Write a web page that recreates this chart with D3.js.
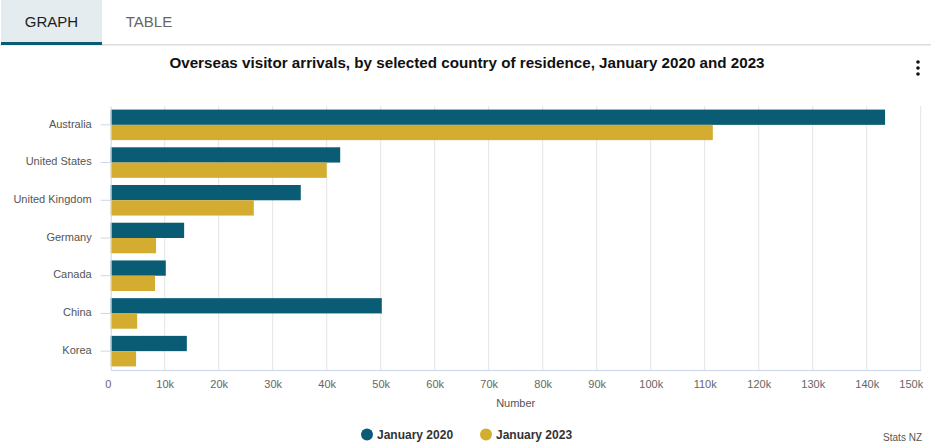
<!DOCTYPE html>
<html><head><meta charset="utf-8">
<script src="https://cdn.jsdelivr.net/npm/d3@7"></script>
<style>
body{margin:0;background:#fff;font-family:"Liberation Sans",Arial,sans-serif;}
</style></head>
<body><svg id="c" width="931" height="448"></svg>
<script>
const categories = ["Australia","United States","United Kingdom","Germany","Canada","China","Korea"];
const seriesNames = ["January 2020","January 2023"];
const jan2020 = [143400, 42500, 35200, 13600, 10200, 50200, 14100];
const jan2023 = [111500, 40000, 26500, 8400, 8200, 4900, 4700];
const xTicks = [0,10000,20000,30000,40000,50000,60000,70000,80000,90000,100000,110000,120000,130000,140000,150000];
const colors = ["#0a5c75","#d4ac2f"];

const svg = d3.select("#c");
const font = '"Liberation Sans",Arial,sans-serif';

// tabs
svg.append("rect").attr("x",1).attr("y",0).attr("width",101).attr("height",44).attr("fill","#e4ecef");
svg.append("rect").attr("x",0).attr("y",44).attr("width",931).attr("height",1.5).attr("fill","#dcdcdc");
svg.append("rect").attr("x",1).attr("y",42).attr("width",101).attr("height",3).attr("fill","#0a5c75");
svg.append("text").attr("x",51.5).attr("y",27).attr("text-anchor","middle").attr("font-family",font)
  .attr("font-size",15).attr("fill","#1d1d1d").text("GRAPH");
svg.append("text").attr("x",149).attr("y",27).attr("text-anchor","middle").attr("font-family",font)
  .attr("font-size",15).attr("fill","#666").text("TABLE");

// title
svg.append("text").attr("x",467).attr("y",68).attr("text-anchor","middle").attr("font-family",font)
  .attr("font-size",15.2).attr("font-weight","bold").attr("fill","#111")
  .text("Overseas visitor arrivals, by selected country of residence, January 2020 and 2023");

// menu dots
[62,68,74].forEach(y=>svg.append("circle").attr("cx",918).attr("cy",y).attr("r",1.8).attr("fill","#111"));

const m = {left:110.7, top:106, right:920.7, bottom:370};
const x = d3.scaleLinear().domain([0,150000]).range([m.left,m.right]);
const y = d3.scaleBand().domain(categories).range([m.top,m.bottom]).paddingInner(0.19).paddingOuter(0.095);
const y1 = d3.scaleBand().domain(seriesNames).range([0,y.bandwidth()]);

// gridlines
svg.append("g").selectAll("line").data(xTicks.slice(1)).join("line")
  .attr("x1",d=>x(d)).attr("x2",d=>x(d)).attr("y1",m.top).attr("y2",m.bottom)
  .attr("stroke","#e4e4e4").attr("stroke-width",1);

// bars
const data = [jan2020, jan2023];
categories.forEach((c,i)=>{
  seriesNames.forEach((s,j)=>{
    svg.append("rect").attr("x",x(0)).attr("y",y(c)+y1(s))
      .attr("width",x(data[j][i])-x(0)).attr("height",y1.bandwidth()).attr("fill",colors[j]);
  });
});

// y axis
const yAxis = svg.append("g").attr("transform",`translate(${m.left},0)`)
  .call(d3.axisLeft(y).tickSizeInner(10).tickSizeOuter(0).tickPadding(9));
yAxis.select(".domain").attr("stroke","#ccd6eb");
yAxis.selectAll(".tick line").attr("stroke","#ccd6eb");
yAxis.selectAll("text").attr("font-family",font).attr("font-size",11).attr("fill","#555").attr("dy","0.25em");

// x axis
const xAxis = svg.append("g").attr("transform",`translate(0,${m.bottom})`)
  .call(d3.axisBottom(x).tickValues(xTicks).tickSize(0).tickPadding(10).tickFormat(d=>d===0?"0":(d/1000)+"k"));
xAxis.select(".domain").attr("stroke","#ccd6eb");
xAxis.selectAll("text").attr("font-family",font).attr("font-size",11).attr("fill","#666");
xAxis.selectAll(".tick").filter(d=>d===0).select("text").attr("dx",-3);
xAxis.selectAll(".tick").filter(d=>d===150000).select("text").attr("dx",-10);

svg.append("text").attr("x",(m.left+m.right)/2).attr("y",407).attr("text-anchor","middle")
  .attr("font-family",font).attr("font-size",11).attr("fill","#555").text("Number");

// legend
const legX = [367, 486];
seriesNames.forEach((s,j)=>{
  svg.append("circle").attr("cx",legX[j]).attr("cy",434.5).attr("r",6).attr("fill",colors[j]);
  svg.append("text").attr("x",legX[j]+10).attr("y",439).attr("font-family",font)
    .attr("font-size",12).attr("font-weight","bold").attr("fill","#333").text(s);
});
svg.append("text").attr("x",922).attr("y",441).attr("text-anchor","end").attr("font-family",font)
  .attr("font-size",10).attr("fill","#555").text("Stats NZ");
</script></body></html>
